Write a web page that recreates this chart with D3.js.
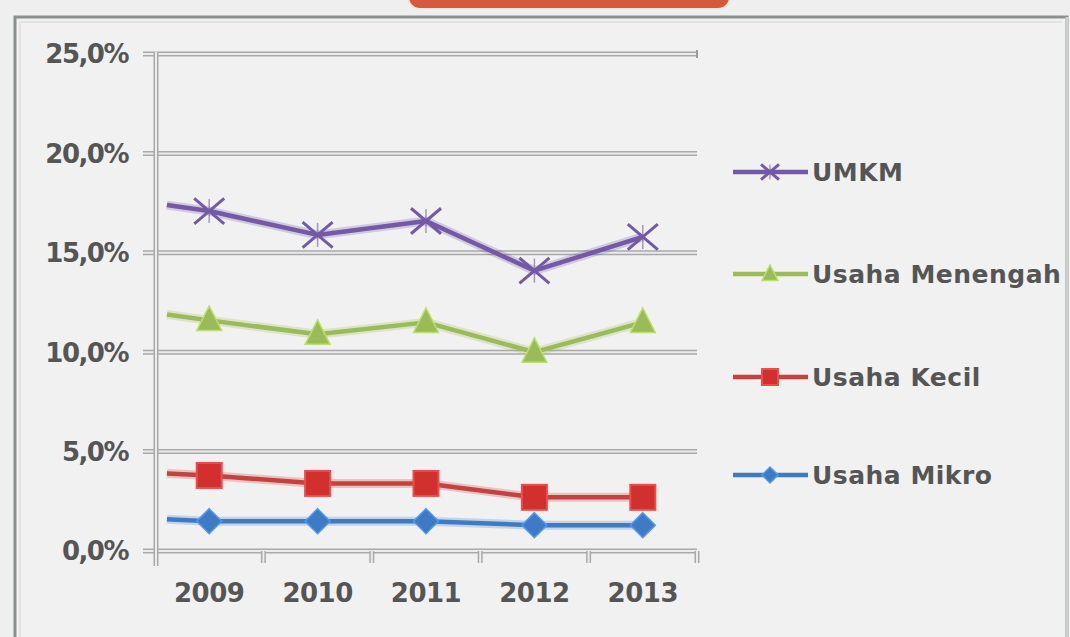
<!DOCTYPE html>
<html>
<head>
<meta charset="utf-8">
<script src="https://cdn.jsdelivr.net/npm/d3@7"></script>
<style>
  html, body { margin: 0; padding: 0; background: #efefef; }
  svg { display: block; }
  text { font-family: "DejaVu Sans", sans-serif; fill: #555555; font-weight: bold; }
</style>
</head>
<body>
<script>
var years = [2009, 2010, 2011, 2012, 2013]
var yTicks = [0, 5, 10, 15, 20, 25]

var seriesNames = ['UMKM', 'Usaha Menengah', 'Usaha Kecil', 'Usaha Mikro']
var umkm     = [17.1, 15.9, 16.6, 14.1, 15.8]
var menengah = [11.6, 10.9, 11.5, 10.0, 11.5]
var kecil    = [3.8, 3.4, 3.4, 2.7, 2.7]
var mikro    = [1.5, 1.5, 1.5, 1.3, 1.3]
// the lines run in from the axis before the first marker
var leadIn   = [17.4, 11.9, 3.9, 1.6]

var colors  = ['#7459a6', '#9bbb59', '#c4413f', '#3f7bc4']
var markers = ['x', 'triangle', 'square', 'diamond']
var values  = [umkm, menengah, kecil, mikro]

var W = 1070, H = 637
var svg = d3.select('body').append('svg').attr('width', W).attr('height', H)

svg.append('rect').attr('width', W).attr('height', H).attr('fill', '#efefef')

// red banner at the top, mostly cut off
svg.append('rect')
  .attr('x', 408).attr('y', -20).attr('width', 322).attr('height', 29)
  .attr('rx', 12)
  .attr('fill', '#d55a3d')
  .attr('stroke', '#f8e4de').attr('stroke-width', 2)

// outer frame
var frame = svg.append('g')
frame.append('rect')
  .attr('x', 15).attr('y', 17).attr('width', 1052).attr('height', 640)
  .attr('fill', '#f1f1f1').attr('stroke', '#8b8f8f').attr('stroke-width', 3)
frame.append('line').attr('x1', 1067).attr('y1', 17).attr('x2', 1067).attr('y2', H)
  .attr('stroke', '#cfcfcf').attr('stroke-width', 3)
frame.append('line').attr('x1', 20).attr('y1', 22).attr('x2', 1062).attr('y2', 22)
  .attr('stroke', '#dcdcdc').attr('stroke-width', 1.5)
frame.append('line').attr('x1', 20).attr('y1', 22).attr('x2', 20).attr('y2', H)
  .attr('stroke', '#dcdcdc').attr('stroke-width', 1.5)

var x = d3.scaleBand().domain(years).range([155, 697]).padding(0)
var y = d3.scaleLinear().domain([0, 25]).range([551, 54])
var xc = function(yr) { return x(yr) + x.bandwidth() / 2 }

// gridlines drawn double like the original
function doubleLine(g, x1, y1, x2, y2) {
  g.append('line').attr('x1', x1).attr('y1', y1).attr('x2', x2).attr('y2', y2)
    .attr('stroke', '#a9a9a9').attr('stroke-width', 5)
  g.append('line').attr('x1', x1).attr('y1', y1).attr('x2', x2).attr('y2', y2)
    .attr('stroke', '#ececec').attr('stroke-width', 2)
}

var grid = svg.append('g')
yTicks.forEach(function(t) {
  doubleLine(grid, 143, y(t), 697, y(t))
})
doubleLine(grid, 156, 52, 156, 566)
var bounds = years.map(function(d) { return x(d) }).concat([x.range()[1]])
bounds.slice(1).forEach(function(b) {
  doubleLine(grid, b, 551, b, 563)
})
grid.append('line').attr('x1', 697).attr('y1', 50).attr('x2', 697).attr('y2', 58)
  .attr('stroke', '#9a9a9a').attr('stroke-width', 2)

// axis labels
var fmt = function(v) { return d3.format('.1f')(v).replace('.', ',') + '%' }
svg.append('g').selectAll('text').data(yTicks).join('text')
  .attr('x', 128).attr('y', function(d) { return y(d) })
  .attr('dy', '0.36em')
  .attr('text-anchor', 'end')
  .style('font-size', '26px')
  .style('letter-spacing', '-1.5px')
  .text(fmt)

svg.append('g').selectAll('text').data(years).join('text')
  .attr('x', xc).attr('y', 593)
  .attr('dy', '0.36em')
  .attr('text-anchor', 'middle')
  .style('font-size', '26px')
  .style('letter-spacing', '-0.5px')
  .text(function(d) { return d })

function drawMarker(g, type, color, s) {
  if (type === 'diamond') {
    g.append('path').attr('d', 'M0,' + (-s) + 'L' + s + ',0L0,' + s + 'L' + (-s) + ',0Z')
      .attr('fill', color).attr('stroke', d3.color(color).brighter(0.6)).attr('stroke-width', 1.5)
  } else if (type === 'square') {
    g.append('rect').attr('x', -s).attr('y', -s).attr('width', 2 * s).attr('height', 2 * s)
      .attr('fill', '#d2302e').attr('stroke', d3.color(color).brighter(0.5)).attr('stroke-width', 2)
  } else if (type === 'triangle') {
    g.append('path').attr('d', 'M0,' + (-s * 1.15) + 'L' + s + ',' + (s * 0.8) + 'L' + (-s) + ',' + (s * 0.8) + 'Z')
      .attr('fill', color).attr('stroke', d3.color(color).brighter(0.5)).attr('stroke-width', 1.5)
  } else {
    g.append('path').attr('d', 'M' + (-s) + ',' + (-s * 0.85) + 'L' + s + ',' + (s * 0.85) +
      'M' + (-s) + ',' + (s * 0.85) + 'L' + s + ',' + (-s * 0.85))
      .attr('stroke', color).attr('stroke-width', 3).attr('fill', 'none')
    g.append('path').attr('d', 'M0,' + (-s * 0.8) + 'L0,' + (s * 0.8))
      .attr('stroke', color).attr('stroke-width', 1.5).attr('opacity', 0.6)
  }
}

var line = d3.line().x(function(d) { return d[0] }).y(function(d) { return y(d[1]) })
var leadX = xc(years[0]) - 0.39 * x.bandwidth()

var plot = svg.append('g')
// draw bottom series first so UMKM sits on top
d3.range(values.length).reverse().forEach(function(i) {
  var pts = [[leadX, leadIn[i]]].concat(years.map(function(yr, j) { return [xc(yr), values[i][j]] }))
  plot.append('path').datum(pts).attr('d', line)
    .attr('fill', 'none').attr('stroke', colors[i]).attr('stroke-width', 9).attr('opacity', 0.25)
    .attr('stroke-linejoin', 'round')
  plot.append('path').datum(pts).attr('d', line)
    .attr('fill', 'none').attr('stroke', colors[i]).attr('stroke-width', 4.5)
    .attr('stroke-linejoin', 'round')
  years.forEach(function(yr, j) {
    var g = plot.append('g').attr('transform', 'translate(' + xc(yr) + ',' + y(values[i][j]) + ')')
    drawMarker(g, markers[i], colors[i], markers[i] === 'x' ? 15 : 12.5)
  })
})

// legend
var legendY = [172, 274, 377, 475]
var legend = svg.append('g')
seriesNames.forEach(function(name, i) {
  var ly = legendY[i]
  legend.append('line').attr('x1', 733).attr('y1', ly).attr('x2', 808).attr('y2', ly)
    .attr('stroke', colors[i]).attr('stroke-width', 4.5)
  var g = legend.append('g').attr('transform', 'translate(770,' + ly + ')')
  drawMarker(g, markers[i], colors[i], markers[i] === 'x' ? 9 : 8)
  legend.append('text').attr('x', 812).attr('y', ly).attr('dy', '0.36em')
    .style('font-size', '25px')
    .style('letter-spacing', '0.5px')
    .text(name)
})
</script>
</body>
</html>
